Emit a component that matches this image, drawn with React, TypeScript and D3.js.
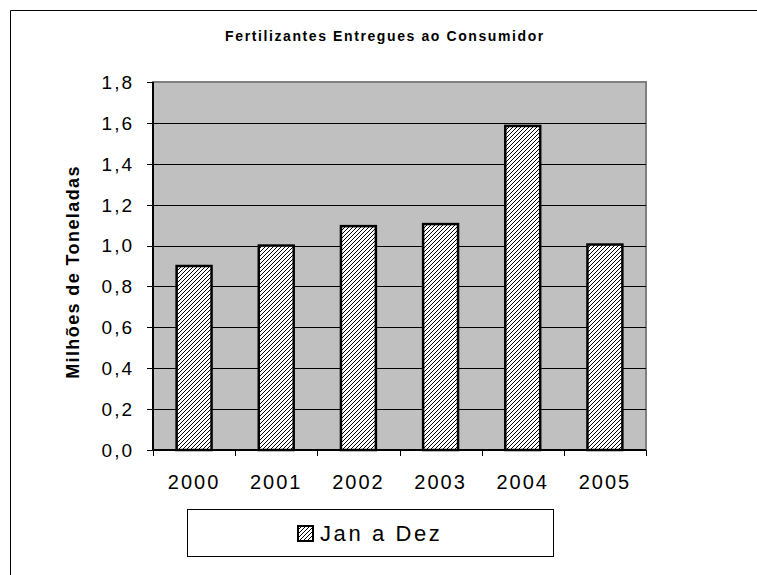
import React from "react";
import * as d3 from "d3";

const years = ["2000", "2001", "2002", "2003", "2004", "2005"];
const values = [0.9, 1.0, 1.095, 1.105, 1.585, 1.005];
const yTicks = [0, 0.2, 0.4, 0.6, 0.8, 1.0, 1.2, 1.4, 1.6, 1.8];
const title = "Fertilizantes Entregues ao Consumidor";
const yTitle = "Milhões de Toneladas";
const seriesName = "Jan a Dez";

const W = 757;
const H = 575;
const plot = { left: 153, top: 82, right: 646, bottom: 450 };
const font = "'Liberation Sans', Arial, sans-serif";

function App() {
  const x = d3
    .scaleBand()
    .domain(years)
    .range([plot.left, plot.right])
    .paddingInner(0.575)
    .paddingOuter(0.2875);
  const xStep = (plot.right - plot.left) / years.length;

  const y = d3.scaleLinear().domain([0, 1.8]).range([plot.bottom, plot.top]);
  const fmt = (v: number) => v.toFixed(1).replace(".", ",");

  return (
    <svg
      width={W}
      height={H}
      style={{ position: "absolute", left: 0, top: 0, background: "#fff" }}
    >
      <defs>
        <pattern id="hatch" patternUnits="userSpaceOnUse" width="4" height="4">
          <rect width="4" height="4" fill="#fff" />
          <path
            d="M-1,1 l2,-2 M0,4 l4,-4 M3,5 l2,-2"
            stroke="#000"
            strokeWidth="1"
          />
        </pattern>
      </defs>

      {/* outer chart border, only top and left edges fall inside the picture */}
      <path d={`M10.5,${H} V10.5 H${W}`} fill="none" stroke="#000" strokeWidth={1} />

      <text
        x={385}
        y={41}
        textAnchor="middle"
        fontFamily={font}
        fontWeight="bold"
        fontSize={14}
        letterSpacing={1.6}
      >
        {title}
      </text>

      {/* plot area */}
      <rect
        x={plot.left}
        y={plot.top}
        width={plot.right - plot.left}
        height={plot.bottom - plot.top}
        fill="#c0c0c0"
        stroke="#808080"
        strokeWidth={2}
      />

      {yTicks.slice(1, -1).map((t) => (
        <line
          key={"g" + t}
          x1={plot.left}
          x2={plot.right}
          y1={Math.round(y(t)) + 0.5}
          y2={Math.round(y(t)) + 0.5}
          stroke="#000"
          strokeWidth={1}
        />
      ))}

      {/* y axis */}
      <line
        x1={plot.left}
        x2={plot.left}
        y1={plot.top}
        y2={plot.bottom}
        stroke="#000"
        strokeWidth={2}
      />
      {yTicks.map((t) => (
        <g key={"y" + t}>
          <line
            x1={plot.left - 6}
            x2={plot.left}
            y1={Math.round(y(t)) + 0.5}
            y2={Math.round(y(t)) + 0.5}
            stroke="#000"
          />
          <text
            x={134}
            y={y(t)}
            dy="0.36em"
            textAnchor="end"
            fontFamily={font}
            fontSize={19}
            letterSpacing={2}
          >
            {fmt(t)}
          </text>
        </g>
      ))}

      <text
        transform={`translate(79,${(plot.top + plot.bottom) / 2 + 6}) rotate(-90)`}
        textAnchor="middle"
        fontFamily={font}
        fontWeight="bold"
        fontSize={18}
        letterSpacing={1.4}
      >
        {yTitle}
      </text>

      {/* bars */}
      {years.map((yr, i) => (
        <rect
          key={yr}
          x={x(yr)}
          y={y(values[i])}
          width={x.bandwidth()}
          height={plot.bottom - y(values[i])}
          fill="url(#hatch)"
          stroke="#000"
          strokeWidth={2.5}
        />
      ))}

      {/* x axis */}
      <line
        x1={plot.left}
        x2={plot.right}
        y1={plot.bottom}
        y2={plot.bottom}
        stroke="#000"
        strokeWidth={2}
      />
      {d3.range(years.length + 1).map((i) => (
        <line
          key={"xt" + i}
          x1={Math.round(plot.left + i * xStep) + 0.5}
          x2={Math.round(plot.left + i * xStep) + 0.5}
          y1={plot.bottom}
          y2={plot.bottom + 6}
          stroke="#000"
        />
      ))}
      {years.map((yr) => (
        <text
          key={"xl" + yr}
          x={(x(yr) as number) + x.bandwidth() / 2}
          y={489}
          textAnchor="middle"
          fontFamily={font}
          fontSize={20}
          letterSpacing={2}
        >
          {yr}
        </text>
      ))}

      {/* legend */}
      <rect
        x={187.5}
        y={509.5}
        width={366}
        height={47}
        fill="#fff"
        stroke="#000"
        strokeWidth={1}
      />
      <rect
        x={298}
        y={526}
        width={15}
        height={15}
        fill="url(#hatch)"
        stroke="#000"
        strokeWidth={2}
      />
      <text
        x={320}
        y={541}
        fontFamily={font}
        fontSize={22}
        letterSpacing={2.6}
      >
        {seriesName}
      </text>
    </svg>
  );
}

export default App;
